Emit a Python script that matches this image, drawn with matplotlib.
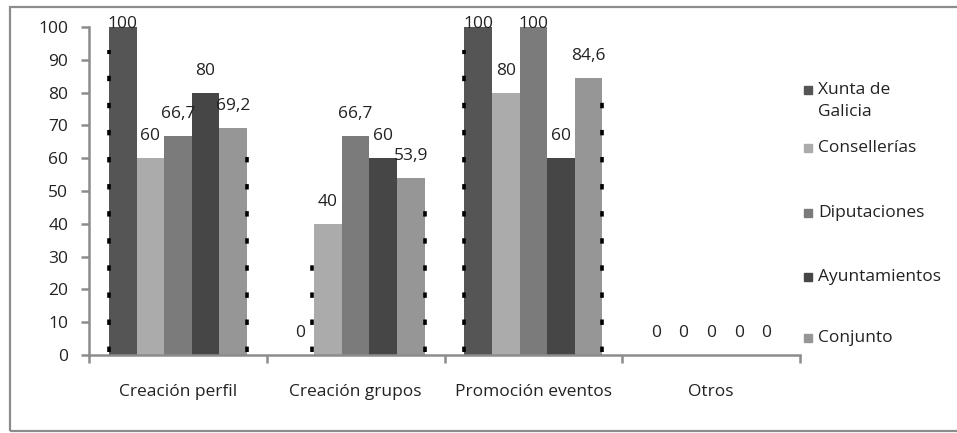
import numpy as np
import matplotlib
matplotlib.use("Agg")
from matplotlib import pyplot as plt
from matplotlib.patches import Rectangle

categories = ["Creación perfil", "Creación grupos", "Promoción eventos", "Otros"]
series_names = ["Xunta de\nGalicia", "Consellerías", "Diputaciones", "Ayuntamientos", "Conjunto"]
xunta = [100, 0, 100, 0]
consellerias = [60, 40, 80, 0]
diputaciones = [66.7, 66.7, 100, 0]
ayuntamientos = [80, 60, 60, 0]
conjunto = [69.2, 53.9, 84.6, 0]
# dotted guide lines per group: (offset in bar widths, top value)
guides = [[(-2.5, 93), (2.5, 62)],
          [(-1.6, 31), (2.5, 47)],
          [(-2.5, 93), (2.5, 77)],
          []]

colors = ["#555555", "#ababab", "#7b7b7b", "#464646", "#969696"]
text_color = "#222222"
spine_color = "#8c8c8c"
fs = 12.5

plt.rcParams["font.family"] = ["Open Sans", "DejaVu Sans"]

fig = plt.figure(figsize=(9.57, 4.33), dpi=100)
ax = fig.add_axes([89 / 957, 1 - 355 / 433, (800 - 89) / 957, (355 - 27) / 433])

x = np.arange(len(categories))
w = 0.155
all_series = [xunta, consellerias, diputaciones, ayuntamientos, conjunto]

for i, (vals, c) in enumerate(zip(all_series, colors)):
    pos = x + (i - 2) * w
    ax.bar(pos, vals, width=w, color=c, edgecolor="none", zorder=2)
    for px, v in zip(pos, vals):
        ly = min(v + 6.7, 100.9)
        label = f"{v:g}".replace(".", ",")
        ax.text(px, ly, label, ha="center", va="center", fontsize=fs,
                color=text_color, zorder=4, clip_on=False)

for xi, group in zip(x, guides):
    for off, top in group:
        edge = xi + off * w
        ax.plot([edge, edge], [1, top], color="black", lw=2.6,
                linestyle=(0, (1.5, 6.0)), zorder=3, solid_capstyle="butt")

ax.set_xlim(-0.5, len(categories) - 0.5)
ax.set_ylim(0, 100)
ax.set_yticks(np.arange(0, 101, 10))
ax.tick_params(axis="y", length=6, width=1.8, color=spine_color, pad=9,
               labelsize=fs, labelcolor=text_color)

ax.set_xticks(np.arange(-0.5, len(categories), 1.0))
ax.set_xticklabels([])
ax.tick_params(axis="x", which="major", length=6, width=1.8, color=spine_color)
ax.set_xticks(x, minor=True)
ax.set_xticklabels(categories, minor=True)
ax.tick_params(axis="x", which="minor", length=0, pad=21, labelsize=fs,
               labelcolor=text_color)

for s in ("top", "right"):
    ax.spines[s].set_visible(False)
for s in ("left", "bottom"):
    ax.spines[s].set_color(spine_color)
    ax.spines[s].set_linewidth(1.8)

# legend drawn by hand on the right
legend_y = [90, 148, 213, 277, 338]
for name, c, yy in zip(series_names, colors, legend_y):
    fy = 1 - yy / 433
    fig.patches.append(Rectangle((804 / 957, fy - 4 / 433), 8 / 957, 8 / 433,
                                 transform=fig.transFigure, color=c))
    if "\n" in name:
        fig.text(818 / 957, 1 - (yy - 8) / 433, name, ha="left", va="top",
                 fontsize=fs, color=text_color, linespacing=1.5)
    else:
        fig.text(818 / 957, fy, name, ha="left", va="center",
                 fontsize=fs, color=text_color)

# outer chart frame
fig.patches.append(Rectangle((10 / 957, 2 / 433), 1.0, 424 / 433,
                             transform=fig.transFigure, fill=False,
                             edgecolor=spine_color, lw=1.6))

fig.savefig("out.png", dpi=100, facecolor="white")
